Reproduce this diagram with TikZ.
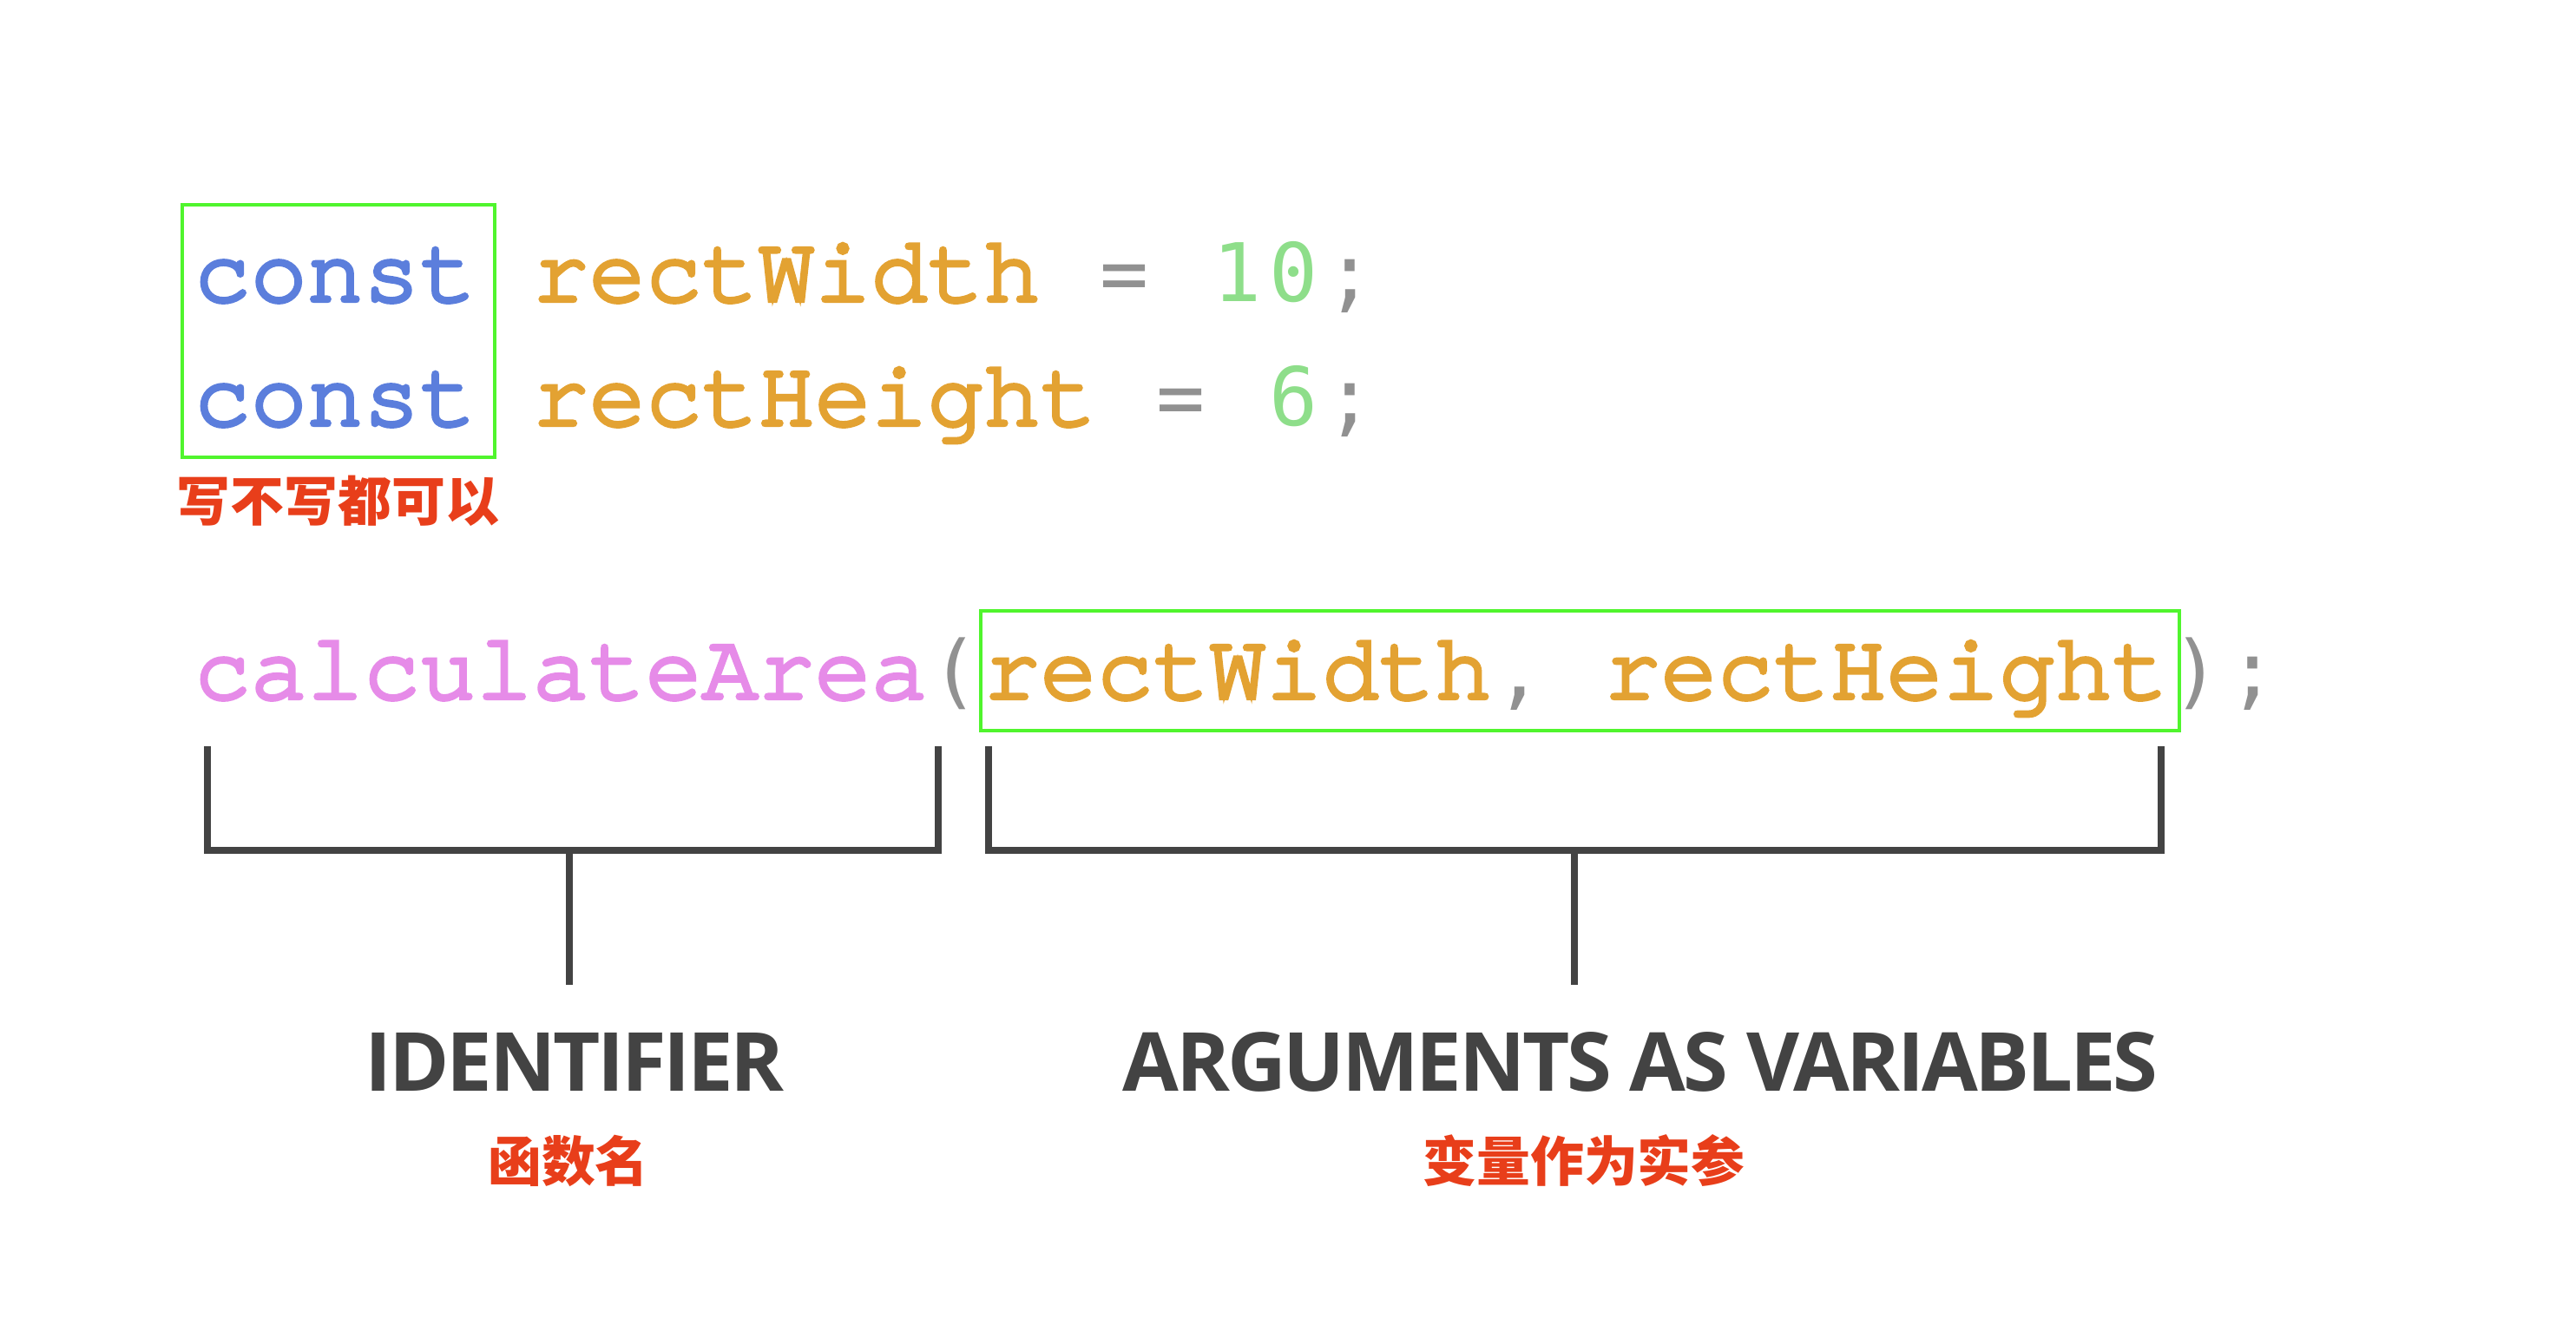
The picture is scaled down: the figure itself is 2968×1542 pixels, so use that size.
\documentclass[tikz,border=0pt]{standalone}
\usepackage{fontspec}
\usepackage{xcolor}
\usetikzlibrary{positioning}

\newfontfamily\codefont{TeX Gyre Cursor}[FakeBold=4]
\newfontfamily\symfont{DejaVu Sans Mono}[Scale=0.86]
\newfontfamily\labelfont{Open Sans}[LetterSpace=-3.5]
\newfontfamily\cjkfont{Noto Sans CJK SC}

\definecolor{kwblue}{HTML}{5B7EDC}
\definecolor{varorange}{HTML}{E3A232}
\definecolor{numgreen}{HTML}{8EDE8A}
\definecolor{symgray}{HTML}{919191}
\definecolor{fnviolet}{HTML}{E68BE8}
\definecolor{boxgreen}{HTML}{50F52D}
\definecolor{notered}{HTML}{E83E1A}
\definecolor{darkgray}{HTML}{434343}

\newcommand\kw[1]{\textcolor{kwblue}{#1}}
\newcommand\vn[1]{\textcolor{varorange}{#1}}
\newcommand\fn[1]{\textcolor{fnviolet}{#1}}
\newcommand\sy[2]{\makebox[0.6em]{\symfont\mdseries\color{#1}#2}}

\begin{document}
\begin{tikzpicture}[x=0.01cm, y=-0.01cm,
    code/.style={anchor=base west, inner sep=0pt, font=\codefont\fontsize{30.8pt}{36pt}\selectfont},
    hlbox/.style={draw=boxgreen, line width=1.3pt},
    bracket/.style={draw=darkgray, line width=2.4pt},
    label/.style={anchor=base, inner sep=0pt, text=darkgray, font=\labelfont\bfseries\fontsize{26.7pt}{32pt}\selectfont},
    note/.style={inner sep=0pt, text=notered, font=\cjkfont\bfseries\fontsize{17.6pt}{21pt}\selectfont}]
    \useasboundingbox (0,0) rectangle (2968,1542);

    % code lines
    \node[code] (width) at (223,347) {\kw{const} \vn{rectWidth} \sy{symgray}{=} \sy{numgreen}{1}\sy{numgreen}{0}\sy{symgray}{;}};
    \node[code] (height) at (223,490) {\kw{const} \vn{rectHeight} \sy{symgray}{=} \sy{numgreen}{6}\sy{symgray}{;}};
    \node[code] (call) at (223,805) {\fn{calculateArea}\sy{symgray}{(}\vn{rectWidth}\sy{symgray}{,} \vn{rectHeight}\sy{symgray}{)}\sy{symgray}{;}};

    \draw[hlbox] (210,236) rectangle (570,527);
    \draw[hlbox] (1130,704) rectangle (2511,842);

    \node[note, anchor=base west] (optional) at (203,600) {写不写都可以};

    % brackets
    \coordinate (idl) at (239,860);
    \coordinate (idr) at (1081,860);
    \coordinate (idm) at (656,980);
    \coordinate (idend) at (656,1135);
    \coordinate (argl) at (1139,860);
    \coordinate (argr) at (2490,860);
    \coordinate (argm) at (1814,980);
    \coordinate (argend) at (1814,1135);

    \draw[bracket] (idl) |- (idm) -| (idr);
    \draw[bracket] (idm) -- (idend);
    \draw[bracket] (argl) |- (argm) -| (argr);
    \draw[bracket] (argm) -- (argend);

    % labels
    \node[label] (ident) at (662,1257) {IDENTIFIER};
    \node[note, anchor=base] (identcn) at (655,1361) {函数名};
    \node[label] (args) at (1890,1257) {ARGUMENTS AS VARIABLES};
    \node[note, anchor=base] (argscn) at (1825,1361) {变量作为实参};
\end{tikzpicture}
\end{document}
